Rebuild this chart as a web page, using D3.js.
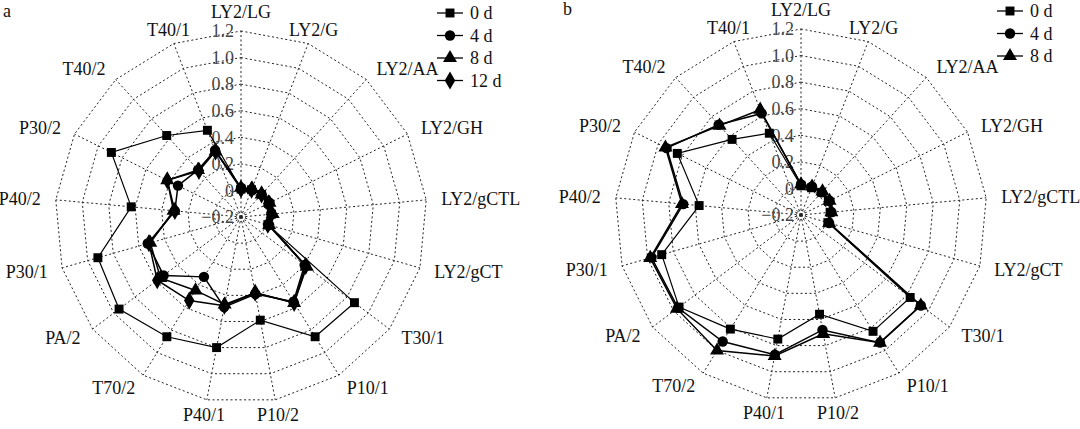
<!DOCTYPE html>
<html>
<head>
<meta charset="utf-8">
<script src="https://cdn.jsdelivr.net/npm/d3@7"></script>
<style>
  body { margin: 0; background: #fff; }
</style>
</head>
<body>
<svg id="chart" width="1080" height="429" font-family="'Liberation Serif', Tinos, 'Times New Roman', 'DejaVu Serif', serif"></svg>
<script>

// axis names, clockwise from the top
var axisNames = ["LY2/LG", "LY2/G", "LY2/AA", "LY2/GH", "LY2/gCTL", "LY2/gCT", "T30/1", "P10/1",
                 "P10/2", "P40/1", "T70/2", "PA/2", "P30/1", "P40/2", "P30/2", "T40/2", "T40/1"];

var tickValues = [-0.2, 0, 0.2, 0.4, 0.6, 0.8, 1.0, 1.2];

// panel a
var daysA = ["0 d", "4 d", "8 d", "12 d"];
var a0d  = [0.01, 0.02, 0.03, 0.03, 0.03, 0.01, 0.87, 0.86, 0.59, 0.80, 0.86, 0.95, 0.92, 0.63, 0.89, 0.63, 0.50];
var a4d  = [0.02, 0.02, 0.03, 0.04, 0.03, 0.02, 0.40, 0.55, 0.39, 0.49, 0.33, 0.53, 0.53, 0.30, 0.33, 0.28, 0.34];
var a8d  = [0.02, 0.03, 0.03, 0.04, 0.04, 0.02, 0.42, 0.56, 0.38, 0.47, 0.45, 0.56, 0.51, 0.31, 0.42, 0.28, 0.33];
var a12d = [0.01, 0.02, 0.03, 0.03, 0.03, 0.01, 0.41, 0.56, 0.38, 0.48, 0.54, 0.59, 0.52, 0.30, 0.42, 0.27, 0.33];

// panel b
var daysB = ["0 d", "4 d", "8 d"];
var b0d = [0.02, 0.02, 0.03, 0.03, 0.02, 0.01, 0.83, 0.83, 0.56, 0.75, 0.81, 0.95, 0.89, 0.57, 0.84, 0.57, 0.46];
var b4d = [0.03, 0.03, 0.03, 0.04, 0.03, 0.02, 0.93, 0.93, 0.68, 0.87, 0.92, 0.96, 0.97, 0.69, 0.93, 0.72, 0.62];
var b8d = [0.03, 0.03, 0.04, 0.04, 0.03, 0.02, 0.93, 0.93, 0.71, 0.88, 1.00, 0.97, 0.98, 0.70, 0.94, 0.71, 0.65];

var symbols = [
    {type: d3.symbolSquare, size: 80},
    {type: d3.symbolCircle, size: 85},
    {type: d3.symbolTriangle, size: 85},
    {type: d3.symbolDiamond, size: 95}
];

var svg = d3.select("#chart");

drawRadar(241, 217, "a", daysA, [a0d, a4d, a8d, a12d]);
drawRadar(801, 215, "b", daysB, [b0d, b4d, b8d]);

function drawRadar(cx, cy, letter, names, series) {

    var R = 186;
    var n = axisNames.length;
    var r = d3.scaleLinear().domain([-0.2, 1.2]).range([0, R]);
    var angle = d3.scaleLinear().domain([0, n]).range([0, 2 * Math.PI]);

    var g = svg.append("g").attr("transform", "translate(" + cx + "," + cy + ")");

    function px(i, v) { return Math.sin(angle(i)) * r(v); }
    function py(i, v) { return -Math.cos(angle(i)) * r(v); }

    // grid rings (polygons)
    var ring = d3.lineRadial()
        .angle(function(d, i){ return angle(i); })
        .radius(function(d){ return r(d); })
        .curve(d3.curveLinearClosed);

    tickValues.filter(function(t){ return t > -0.2; }).forEach(function(t){
        g.append("path")
            .attr("d", ring(axisNames.map(function(){ return t; })))
            .attr("fill", "none").attr("stroke", "#222")
            .attr("stroke-width", 1).attr("stroke-dasharray", "2,2.5");
    });

    g.append("circle").attr("r", 4.5).attr("fill", "none")
        .attr("stroke", "#222").attr("stroke-dasharray", "1.5,1.5");

    // spokes
    g.selectAll(".spoke").data(axisNames).enter().append("line")
        .attr("x1", 0).attr("y1", 0)
        .attr("x2", function(d, i){ return px(i, 1.2); })
        .attr("y2", function(d, i){ return py(i, 1.2); })
        .attr("stroke", "#222").attr("stroke-width", 1).attr("stroke-dasharray", "2,2.5");

    // tick labels along the top spoke
    g.selectAll(".tick").data(tickValues).enter().append("text")
        .attr("x", -7)
        .attr("y", function(d){ return -r(d); })
        .attr("dy", "0.35em")
        .attr("text-anchor", "end")
        .attr("font-size", 18).attr("fill", "#444")
        .text(function(d){ return d === 0 ? "0" : d3.format(".1f")(d); });

    // axis names
    g.selectAll(".axname").data(axisNames).enter().append("text")
        .attr("x", function(d, i){ return Math.sin(angle(i)) * (R + 15); })
        .attr("y", function(d, i){ return -Math.cos(angle(i)) * (R + (i === 0 ? 19 : 15)); })
        .attr("dy", "0.35em")
        .attr("text-anchor", function(d, i){
            var s = Math.sin(angle(i));
            return s > 0.4 ? "start" : (s < -0.4 ? "end" : "middle");
        })
        .attr("font-size", 18).attr("fill", "#111")
        .text(function(d){ return d; });

    // series
    var line = d3.lineRadial()
        .angle(function(d, i){ return angle(i); })
        .radius(function(d){ return r(d); })
        .curve(d3.curveLinearClosed);

    series.forEach(function(vals, s){
        g.append("path").attr("d", line(vals))
            .attr("fill", "none").attr("stroke", "#000")
            .attr("stroke-width", s === 0 ? 1.2 : 1.5);

        g.selectAll(".m" + s).data(vals).enter().append("path")
            .attr("d", d3.symbol().type(symbols[s].type).size(symbols[s].size))
            .attr("transform", function(d, i){
                return "translate(" + px(i, d) + "," + py(i, d) + ")";
            })
            .attr("fill", "#000");
    });

    // panel letter
    svg.append("text").attr("x", cx - 238).attr("y", cy - 200)
        .attr("font-size", 18).attr("fill", "#111").text(letter);

    // legend
    var leg = svg.append("g").attr("transform", "translate(" + (cx + 196) + "," + (cy - 204) + ")");
    names.forEach(function(name, s){
        var row = leg.append("g").attr("transform", "translate(0," + (s * 22.5) + ")");
        row.append("line").attr("x1", 0).attr("x2", 26).attr("y1", 0).attr("y2", 0)
            .attr("stroke", "#000").attr("stroke-width", 1.3);
        row.append("path").attr("d", d3.symbol().type(symbols[s].type).size(symbols[s].size))
            .attr("transform", "translate(13,0)").attr("fill", "#000");
        row.append("text").attr("x", 33).attr("dy", "0.35em")
            .attr("font-size", 18).attr("fill", "#111").text(name);
    });
}
</script>
</body>
</html>
